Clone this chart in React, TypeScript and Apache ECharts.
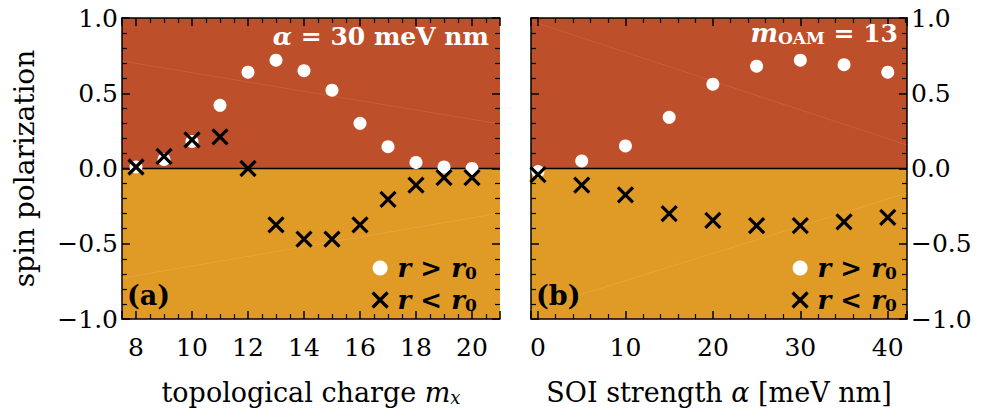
import React, { useEffect, useRef } from 'react';
import * as echarts from 'echarts';

// ---- data ----
const chargeValues = [8, 9, 10, 11, 12, 13, 14, 15, 16, 17, 18, 19, 20];
const chargeOuter = [0.01, 0.06, 0.18, 0.42, 0.64, 0.72, 0.65, 0.52, 0.3, 0.145, 0.04, 0.01, 0.0];
const chargeInner = [0.01, 0.08, 0.19, 0.21, 0.0, -0.375, -0.47, -0.47, -0.375, -0.205, -0.11, -0.06, -0.06];

const soiValues = [0, 5, 10, 15, 20, 25, 30, 35, 40];
const soiOuter = [-0.02, 0.05, 0.15, 0.34, 0.56, 0.68, 0.72, 0.69, 0.64];
const soiInner = [-0.04, -0.11, -0.175, -0.3, -0.345, -0.38, -0.38, -0.355, -0.325];

// faint guide lines in the background
const guideATop = [[7.5, 0.714], [21, 0.296]];
const guideABottom = [[7.5, -0.728], [21, -0.296]];
const guideBTop = [[-0.8, 0.98], [42.2, 0.156]];
const guideBBottom = [[-0.8, -0.94], [42.2, -0.163]];

const seriesNames = ['r > r0', 'r < r0'];
const panelLabels = ['(a)', '(b)'];

const FONT = '"DejaVu Serif", "Liberation Serif", serif';
const TOP_COLOR = '#bd4f2a';
const BOTTOM_COLOR = '#df9b25';
const CROSS = 'path://M0,0L10,10M0,10L10,0';

const PLOT_TOP = 18;
const PLOT_H = 301;
const PANELS = [
  { left: 122, width: 378 },
  { left: 531, width: 376 },
];

const fmtY = (v: number) => v.toFixed(1).replace('-', '\u2212');
const hiddenSplit = { show: true, lineStyle: { color: 'rgba(0,0,0,0)', width: 0.5 } };

function xAxisPair(gridIndex: number, min: number, max: number, split: number, name: string, labelFmt: (v: number) => string) {
  const common = {
    type: 'value',
    gridIndex,
    min,
    max,
    splitNumber: split,
    splitLine: hiddenSplit,
    axisLine: { show: true, onZero: false, lineStyle: { color: '#000', width: 1.5 } },
    axisTick: { show: true, inside: true, length: 8, lineStyle: { color: '#000', width: 1.5 } },
    minorTick: { show: true, splitNumber: split === 7 ? 4 : 5, length: 5, lineStyle: { color: '#000', width: 1.2 } },
  };
  return [
    {
      ...common,
      position: 'bottom',
      name,
      nameLocation: 'middle',
      nameGap: 60,
      nameTextStyle: {
        fontFamily: FONT,
        fontSize: 27,
        color: '#000',
        rich: {
          n: { fontFamily: FONT, fontSize: 27, color: '#000' },
          i: { fontFamily: FONT, fontSize: 27, fontStyle: 'italic', color: '#000' },
          s: { fontFamily: FONT, fontSize: 18, fontStyle: 'italic', color: '#000', verticalAlign: 'bottom', lineHeight: 12 },
        },
      },
      axisLabel: {
        show: true,
        margin: 16,
        showMinLabel: false,
        showMaxLabel: false,
        fontFamily: FONT,
        fontSize: 25,
        color: '#000',
        formatter: labelFmt,
      },
    },
    { ...common, position: 'top', axisLabel: { show: false } },
  ];
}

function yAxisPair(gridIndex: number, labelSide: 'left' | 'right', withName: boolean) {
  const common = {
    type: 'value',
    gridIndex,
    min: -1,
    max: 1,
    interval: 0.5,
    splitLine: hiddenSplit,
    axisTick: { show: true, inside: true, length: 8, lineStyle: { color: '#000', width: 1.5 } },
    minorTick: { show: true, splitNumber: 5, length: 5, lineStyle: { color: '#000', width: 1.2 } },
  };
  const labelled = {
    ...common,
    position: labelSide,
    axisLine: { show: true, onZero: false, lineStyle: { color: '#000', width: 1.5 } },
    axisLabel: { show: true, margin: 4, fontFamily: FONT, fontSize: 25, color: '#000', formatter: fmtY },
    ...(withName
      ? {
          name: 'spin polarization',
          nameLocation: 'middle',
          nameGap: 84,
          nameTextStyle: { fontFamily: FONT, fontSize: 28, color: '#000' },
        }
      : {}),
  };
  const mirror = {
    ...common,
    position: labelSide === 'left' ? 'right' : 'left',
    axisLine: { show: labelSide === 'right', onZero: false, lineStyle: { color: '#000', width: 1.5 } },
    axisLabel: { show: false },
  };
  return labelSide === 'left' ? [labelled, mirror] : [mirror, labelled];
}

function guideSeries(xi: number, yi: number, top: number[][], bottom: number[][]) {
  return [
    {
      type: 'line',
      xAxisIndex: xi,
      yAxisIndex: yi,
      data: top,
      symbol: 'none',
      silent: true,
      z: 1.2,
      lineStyle: { color: 'rgba(255,220,200,0.12)', width: 1 },
      markLine: {
        silent: true,
        z: 1.5,
        symbol: 'none',
        label: { show: false },
        lineStyle: { color: '#000', width: 1.3, type: 'solid' },
        data: [{ yAxis: 0 }],
      },
    },
    {
      type: 'line',
      xAxisIndex: xi,
      yAxisIndex: yi,
      data: bottom,
      symbol: 'none',
      silent: true,
      z: 1.2,
      lineStyle: { color: 'rgba(255,240,200,0.14)', width: 1 },
    },
  ];
}

function markerSeries(xi: number, yi: number, xs: number[], outer: number[], inner: number[]) {
  return [
    {
      name: seriesNames[0],
      type: 'scatter',
      xAxisIndex: xi,
      yAxisIndex: yi,
      z: 3,
      symbol: 'circle',
      symbolSize: 13,
      itemStyle: { color: '#fff', opacity: 1 },
      data: xs.map((x, i) => [x, outer[i]]),
    },
    {
      name: seriesNames[1],
      type: 'scatter',
      xAxisIndex: xi,
      yAxisIndex: yi,
      z: 4,
      symbol: CROSS,
      symbolSize: 15,
      itemStyle: { color: '#000', borderColor: '#000', borderWidth: 3.2, opacity: 1 },
      data: xs.map((x, i) => [x, inner[i]]),
    },
  ];
}

const legendText = {
  fontFamily: FONT,
  fontSize: 26,
  fontWeight: 'bold',
  color: '#000',
  padding: [0, 0, 0, 5],
  rich: {
    i: { fontFamily: FONT, fontSize: 26, fontWeight: 'bold', fontStyle: 'italic', color: '#000' },
    s: { fontFamily: FONT, fontSize: 17, fontWeight: 'bold', color: '#000', verticalAlign: 'bottom', lineHeight: 12 },
  },
};
const legendFmt = (n: string) => (n === seriesNames[0] ? '{i|r} > {i|r}{s|0}' : '{i|r} < {i|r}{s|0}');

function makeLegend(left: number) {
  return {
    left,
    top: 250,
    orient: 'vertical',
    itemGap: 6,
    itemWidth: 15,
    itemHeight: 15,
    selectedMode: false,
    formatter: legendFmt,
    textStyle: legendText,
    data: [
      { name: seriesNames[0], icon: 'circle', itemStyle: { color: '#fff' } },
      { name: seriesNames[1], icon: CROSS, itemStyle: { color: '#000', borderColor: '#000', borderWidth: 3.2 } },
    ],
  };
}

const option = {
  animation: false,
  backgroundColor: 'transparent',
  grid: PANELS.map((p) => ({ left: p.left, top: PLOT_TOP, width: p.width, height: PLOT_H })),
  xAxis: [
    ...xAxisPair(0, 7.5, 21, 7, '{n|topological charge }{i|m}{s|x}', (v: number) => (v % 2 === 0 ? String(v) : '')),
    ...xAxisPair(1, -0.8, 42.2, 4, '{n|SOI strength }{i|α}{n| [meV nm]}', (v: number) => (v % 10 === 0 ? String(v) : '')),
  ],
  yAxis: [...yAxisPair(0, 'left', true), ...yAxisPair(1, 'right', false)],
  legend: [makeLegend(366), makeLegend(786)],
  graphic: [
    {
      type: 'text',
      right: 982 - 489,
      top: 24,
      z: 10,
      style: {
        text: '{i|α} = 30 meV nm',
        fill: '#fff',
        fontFamily: FONT,
        fontSize: 25,
        fontWeight: 'bold',
        rich: { i: { fontFamily: FONT, fontSize: 25, fontWeight: 'bold', fontStyle: 'italic', fill: '#fff' } },
      },
    },
    {
      type: 'text',
      right: 982 - 898,
      top: 20,
      z: 10,
      style: {
        text: '{i|m}{s|OAM} = 13',
        fill: '#fff',
        fontFamily: FONT,
        fontSize: 25,
        fontWeight: 'bold',
        rich: {
          i: { fontFamily: FONT, fontSize: 26, fontWeight: 'bold', fontStyle: 'italic', fill: '#fff' },
          s: { fontFamily: FONT, fontSize: 17, fontWeight: 'bold', fill: '#fff', verticalAlign: 'bottom', lineHeight: 12 },
        },
      },
    },
    {
      type: 'text',
      left: 127,
      top: 282,
      z: 10,
      style: { text: panelLabels[0], fill: '#000', fontFamily: FONT, fontSize: 27, fontWeight: 'bold' },
    },
    {
      type: 'text',
      left: 536,
      top: 282,
      z: 10,
      style: { text: panelLabels[1], fill: '#000', fontFamily: FONT, fontSize: 27, fontWeight: 'bold' },
    },
  ],
  series: [
    ...guideSeries(0, 0, guideATop, guideABottom),
    ...guideSeries(2, 3, guideBTop, guideBBottom),
    ...markerSeries(0, 0, chargeValues, chargeOuter, chargeInner),
    ...markerSeries(2, 3, soiValues, soiOuter, soiInner),
  ],
};

export default function App() {
  const ref = useRef<HTMLDivElement>(null);
  useEffect(() => {
    document.body.style.margin = '0';
    const chart = echarts.init(ref.current as HTMLDivElement, null, { renderer: 'svg' });
    chart.setOption(option as any);
    return () => chart.dispose();
  }, []);
  return (
    <div style={{ position: 'relative', width: 982, height: 416, background: '#fff' }}>
      {PANELS.map((p, i) => (
        <React.Fragment key={i}>
          <div style={{ position: 'absolute', left: p.left, top: PLOT_TOP, width: p.width, height: PLOT_H / 2, background: TOP_COLOR }} />
          <div style={{ position: 'absolute', left: p.left, top: PLOT_TOP + PLOT_H / 2, width: p.width, height: PLOT_H / 2, background: BOTTOM_COLOR }} />
        </React.Fragment>
      ))}
      <div ref={ref} style={{ position: 'absolute', left: 0, top: 0, width: 982, height: 416 }} />
    </div>
  );
}
